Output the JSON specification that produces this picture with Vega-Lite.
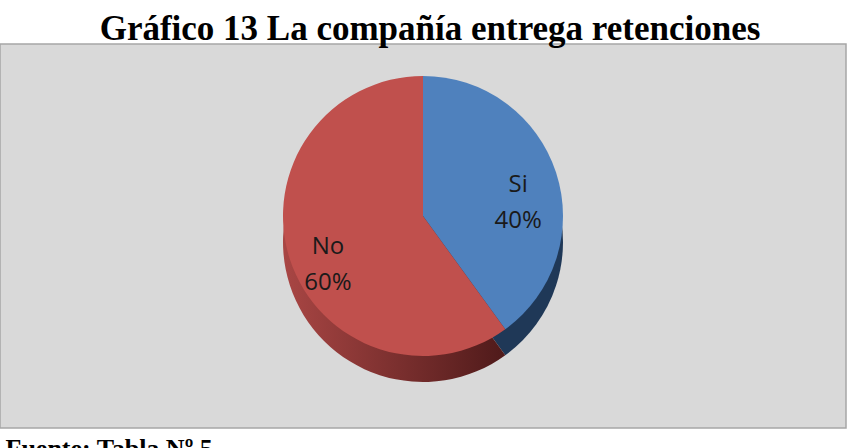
{
  "$schema": "https://vega.github.io/schema/vega-lite/v6.json",
  "autosize": "none",
  "width": 846,
  "height": 384,
  "padding": {"left": 0, "top": 44, "right": 6, "bottom": 20},
  "background": "#ffffff",
  "config": {
    "view": {"fill": "#d9d9d9", "stroke": "#a6a6a6", "strokeWidth": 1.5}
  },
  "title": {
    "text": "Gráfico 13 La compañía entrega retenciones",
    "font": "Liberation Serif",
    "fontSize": 35,
    "fontWeight": "bold",
    "color": "#000000",
    "anchor": "middle",
    "offset": -3,
    "dx": 7
  },
  "data": {
    "values": [
      {"respuesta": "Si", "valor": 40, "etiqueta": "Si\n40%"},
      {"respuesta": "No", "valor": 60, "etiqueta": "No\n60%"}
    ]
  },
  "encoding": {
    "theta": {"field": "valor", "type": "quantitative", "stack": true},
    "order": {"field": "respuesta", "sort": "descending"}
  },
  "layer": [
    {
      "mark": {"type": "arc", "radius": 140, "yOffset": 6},
      "encoding": {
        "color": {
          "condition": {
            "test": "datum.respuesta === 'No'",
            "value": {
              "gradient": "linear",
              "x1": 0, "y1": 0, "x2": 1, "y2": 0,
              "stops": [
                {"offset": 0, "color": "#a94644"},
                {"offset": 1, "color": "#4f1a1a"}
              ]
            }
          },
          "value": "#1f3857"
        }
      }
    },
    {
      "mark": {"type": "arc", "radius": 140, "yOffset": -20},
      "encoding": {
        "color": {
          "field": "respuesta",
          "type": "nominal",
          "scale": {"domain": ["Si", "No"], "range": ["#4f81bd", "#c0504d"]},
          "legend": null
        }
      }
    },
    {
      "mark": {
        "type": "text",
        "radius": 100,
        "yOffset": -20,
        "font": "Open Sans",
        "fontSize": 24,
        "color": "#1a1a1a",
        "lineBreak": "\n",
        "lineHeight": 36
      },
      "encoding": {
        "text": {"field": "etiqueta", "type": "nominal"}
      }
    },
    {
      "mark": {"type": "rule", "opacity": 0},
      "encoding": {
        "x": {
          "datum": 0,
          "type": "quantitative",
          "axis": {
            "title": "Fuente: Tabla Nº 5",
            "labels": false,
            "ticks": false,
            "domain": false,
            "grid": false,
            "titleFont": "Liberation Serif",
            "titleFontSize": 26,
            "titleFontWeight": "bold",
            "titleColor": "#000000",
            "titleAnchor": "start",
            "titleAlign": "left",
            "titleBaseline": "alphabetic",
            "titleX": 5,
            "titleY": 28
          }
        }
      }
    }
  ]
}
